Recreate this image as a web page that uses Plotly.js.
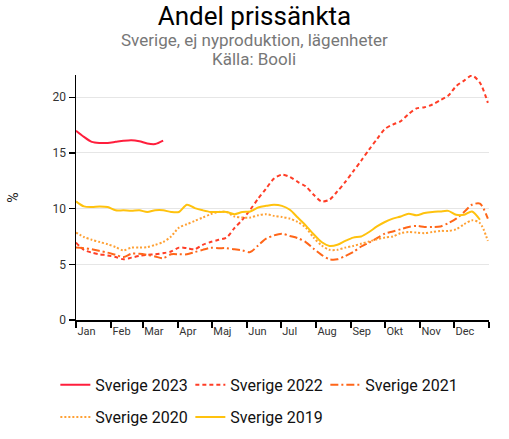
<!DOCTYPE html>
<html>
<head>
<meta charset="utf-8">
<script src="https://cdn.plot.ly/plotly-3.0.1.min.js"></script>
<style>html,body{margin:0;padding:0;background:#fff;}#chart{width:509px;height:439px;}</style>
</head>
<body>
<div id="chart"></div>
<script>
// Month tick labels
const monthLabels = ['Jan','Feb','Mar','Apr','Maj','Jun','Jul','Aug','Sep','Okt','Nov','Dec'];
const seriesNames = ['Sverige 2023','Sverige 2022','Sverige 2021','Sverige 2020','Sverige 2019'];

// Weekly values (% of listings with price cut)
const v2023 = [17.0,16.45,16.0,15.9,15.9,16.0,16.1,16.15,16.05,15.85,15.8,16.1];
const v2022 = [6.95,6.3,6.05,5.9,5.8,5.65,5.45,5.6,5.75,5.85,5.9,6.0,6.15,6.5,6.45,6.35,6.75,7.0,7.2,7.4,8.25,9.0,9.9,10.9,11.8,12.7,13.05,12.85,12.4,12.0,11.25,10.65,10.8,11.55,12.4,13.35,14.3,15.3,16.25,17.15,17.55,17.85,18.5,19.0,19.1,19.35,19.75,20.15,21.0,21.5,21.95,21.3,19.5];
const v2021 = [6.5,6.45,6.35,6.2,6.05,5.85,5.65,5.95,5.95,5.85,5.7,5.55,5.9,5.9,5.9,6.1,6.3,6.48,6.45,6.45,6.35,6.25,6.1,6.7,7.3,7.6,7.75,7.55,7.35,7.0,6.4,5.85,5.45,5.45,5.75,6.1,6.6,6.95,7.35,7.75,7.95,8.15,8.35,8.45,8.35,8.35,8.4,8.7,9.1,9.7,10.35,10.45,9.1];
const v2020 = [7.85,7.45,7.2,7.0,6.8,6.55,6.25,6.5,6.5,6.55,6.75,7.0,7.5,8.3,8.6,8.9,9.2,9.5,9.7,9.7,9.3,9.2,9.2,9.4,9.5,9.35,9.25,9.1,8.8,8.3,7.4,6.7,6.3,6.3,6.5,6.65,6.85,7.05,7.25,7.4,7.5,7.8,7.9,7.85,7.8,7.9,8.0,8.0,8.15,8.6,8.95,8.7,7.1];
const v2019 = [10.65,10.2,10.15,10.2,10.15,9.85,9.85,9.8,9.85,9.7,9.85,9.85,9.7,9.7,10.35,10.05,9.85,9.7,9.7,9.7,9.5,9.7,9.75,10.1,10.25,10.35,10.25,9.9,9.2,8.5,7.7,7.0,6.65,6.75,7.1,7.4,7.5,7.9,8.4,8.8,9.1,9.3,9.55,9.4,9.6,9.7,9.75,9.8,9.45,9.45,9.75,9.0];

// week n -> date within a common reference year
function weekDates(n){
  const out=[];
  for(let i=0;i<n;i++){
    const d=new Date(Date.UTC(2021,0,1+7*i));
    out.push(d.toISOString().slice(0,10));
  }
  return out;
}
const monthStarts=[];
for(let m=0;m<=12;m++){ monthStarts.push(new Date(Date.UTC(2021,m,1)).toISOString().slice(0,10)); }

const colors=['#ff1e3c','#ff3d26','#ff6619','#ffa033','#ffc20e'];
const dashes=['solid','4px,3px','8px,3px,2px,3px','2px,2px','solid'];
const vals=[v2023,v2022,v2021,v2020,v2019];
const legendIds=['legend','legend','legend','legend2','legend2'];

const traces=vals.map((v,k)=>({
  type:'scatter',mode:'lines',name:seriesNames[k],
  x:weekDates(v.length),y:v,
  line:{color:colors[k],width:2,dash:dashes[k],shape:'spline',smoothing:0.8},
  legend:legendIds[k],hoverinfo:'skip'
}));

const FONT='Roboto, "Noto Sans", sans-serif';
const layout={
  width:509,height:439,
  margin:{l:76,r:20,t:75,b:119,autoexpand:false},
  paper_bgcolor:'#fff',plot_bgcolor:'#fff',
  font:{family:FONT,color:'#222'},
  showlegend:true,
  title:{text:'Andel prissänkta',x:0.5,xanchor:'center',y:0.985,yanchor:'top',yref:'container',font:{size:26,color:'#000',family:FONT}},
  annotations:[
    {text:'Sverige, ej nyproduktion, lägenheter',xref:'paper',yref:'paper',x:0.431,y:(320-40)/245,xanchor:'center',yanchor:'middle',showarrow:false,font:{size:17,color:'#777',family:FONT}},
    {text:'Källa: Booli',xref:'paper',yref:'paper',x:0.431,y:(320-59.5)/245,xanchor:'center',yanchor:'middle',showarrow:false,font:{size:17,color:'#777',family:FONT}}
  ],
  xaxis:{type:'date',range:[monthStarts[0],monthStarts[12]],
    tickmode:'array',tickvals:monthStarts,ticktext:monthLabels.concat(['']),
    ticks:'outside',ticklen:6,tickcolor:'#000',tickwidth:1.5,
    ticklabelposition:'outside right',
    showline:true,linecolor:'#000',linewidth:1.5,showgrid:false,zeroline:false,
    tickfont:{size:11,color:'#333'},fixedrange:true},
  yaxis:{range:[0,22],tickvals:[0,5,10,15,20],ticks:'outside',ticklen:6,tickcolor:'#000',tickwidth:1.5,
    showline:true,linecolor:'#000',linewidth:1.5,gridcolor:'#e6e6e6',gridwidth:1,zeroline:false,
    tickfont:{size:12,color:'#333'},
    title:{text:'%',standoff:30,font:{size:14,color:'#222'}},fixedrange:true},
  legend:{orientation:'h',x:-0.05,xanchor:'left',y:-0.265,yanchor:'middle',entrywidth:90,entrywidthmode:'pixels',
    font:{size:16,color:'#111'},bgcolor:'rgba(0,0,0,0)'},
  legend2:{orientation:'h',x:-0.05,xanchor:'left',y:-0.396,yanchor:'middle',entrywidth:90,entrywidthmode:'pixels',
    font:{size:16,color:'#111'},bgcolor:'rgba(0,0,0,0)'}
};
Plotly.newPlot('chart',traces,layout,{displayModeBar:false,staticPlot:true});
</script>
</body>
</html>
